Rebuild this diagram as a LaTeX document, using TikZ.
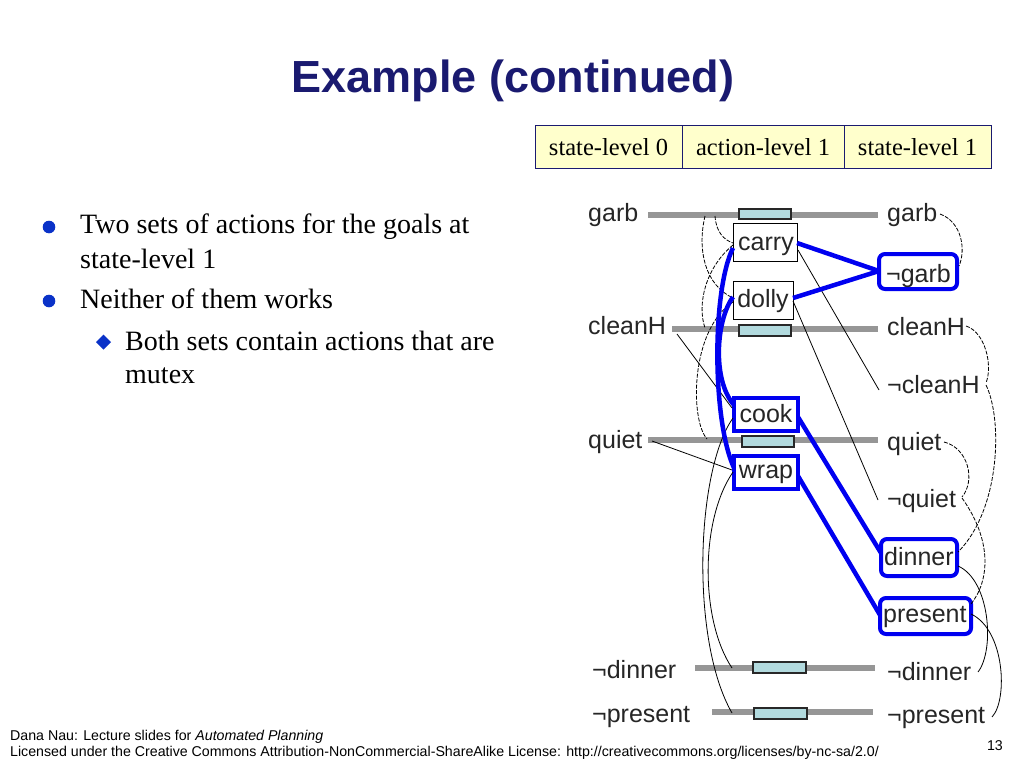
\documentclass[tikz,border=0pt]{standalone}
\usepackage{fontspec}
\setmainfont{Liberation Serif}
\newfontfamily\arial{Liberation Sans}
\definecolor{navy}{RGB}{26,26,112}
\definecolor{bulletblue}{RGB}{10,50,200}
\definecolor{mtxblue}{RGB}{0,0,240}
\definecolor{noopfill}{RGB}{178,218,222}
\definecolor{hdrfill}{RGB}{255,255,204}
\definecolor{lbl}{RGB}{38,38,38}
\begin{document}
\begin{tikzpicture}[x=1pt,y=-1pt,
  lab/.style={font=\arial\fontsize{25}{25}\selectfont, text=lbl, inner sep=0pt},
  grayline/.style={line width=6pt, draw={rgb,255:red,150;green,150;blue,150}},
  noop/.style={draw={rgb,255:red,40;green,40;blue,40}, line width=1.1pt, fill=noopfill},
  actbox/.style={draw=black, line width=0.9pt, fill=white},
  actblue/.style={draw=mtxblue, line width=4pt, fill=white},
  goalbox/.style={draw=mtxblue, line width=4pt, rounded corners=6pt, fill=white},
  bluelink/.style={draw=mtxblue, line width=4.5pt},
  thin/.style={draw=black, line width=0.8pt},
  dashlink/.style={draw=black, line width=0.8pt, dash pattern=on 4pt off 1.5pt},
  hdr/.style={draw=navy, line width=1pt, fill=hdrfill},
  hdrtext/.style={font=\fontsize{24.5}{24.5}\selectfont, anchor=base},
  body/.style={font=\fontsize{28}{28}\selectfont, anchor=base west, inner sep=0pt},
  foot/.style={font=\arial\fontsize{14.2}{14.2}\selectfont, inner sep=0pt}
]
\useasboundingbox (0,0) rectangle (1024,768);
\fill[white] (0,0) rectangle (1024,768);

% title
\node[font=\arial\bfseries\fontsize{45}{45}\selectfont, text=navy, anchor=base] (title) at (513,92) {Example (continued)};

% header table
\draw[hdr] (535,125) rectangle (991,168);
\draw[navy, line width=1pt] (682,125) -- (682,168) (844,125) -- (844,168);
\node[hdrtext] (h1) at (608.5,155) {state-level 0};
\node[hdrtext] (h2) at (763,155) {action-level 1};
\node[hdrtext] (h3) at (917.5,155) {state-level 1};

% bullets
\fill[bulletblue] (49,227) circle (6.3pt);
\fill[bulletblue] (49,301) circle (6.3pt);
\fill[bulletblue] (103.5,334.5) -- (111,342) -- (103.5,349.5) -- (96,342) -- cycle;
\node[body] (b1) at (80,233) {Two sets of actions for the goals at};
\node[body] (b1b) at (80,268) {state-level 1};
\node[body] (b2) at (80,308) {Neither of them works};
\node[body] (b3) at (125,350) {Both sets contain actions that are};
\node[body] (b3b) at (125,383) {mutex};

% footer
\node[foot, anchor=base west] (f1) at (10,740) {Dana Nau: Lecture slides for \textit{Automated Planning}};
\node[foot, anchor=base west] (f2) at (10,756) {Licensed under the Creative Commons Attribution-NonCommercial-ShareAlike License: http://creativecommons.org/licenses/by-nc-sa/2.0/};
\node[foot, anchor=base east] (pg) at (1003,750) {13};

% gray persistence lines
\coordinate (gL) at (648,215); \coordinate (gR) at (878,215);
\coordinate (cL) at (672,329); \coordinate (cR) at (878,329);
\coordinate (qL) at (648,440); \coordinate (qR) at (878,440);
\coordinate (dL) at (695,668); \coordinate (dR) at (875,668);
\coordinate (pL) at (712,712); \coordinate (pR) at (873,712);
\draw[grayline] (gL) -- (gR);
\draw[grayline] (cL) -- (cR);
\draw[grayline] (qL) -- (qR);
\draw[grayline] (dL) -- (dR);
\draw[grayline] (pL) -- (pR);

% noop boxes
\draw[noop] (739,209) rectangle (791,219);
\draw[noop] (739,325) rectangle (791,336);
\draw[noop] (742,436) rectangle (794,447);
\draw[noop] (753,662) rectangle (806,673);
\draw[noop] (754,708) rectangle (807,719);

% left labels
\node[lab, anchor=base west] (lgarb) at (588,221) {garb};
\node[lab, anchor=base west] (lclean) at (588,334) {cleanH};
\node[lab, anchor=base west] (lquiet) at (588,448) {quiet};
\node[lab, anchor=base west] (ldin) at (592,678) {¬dinner};
\node[lab, anchor=base west] (lpre) at (592,722) {¬present};

% right labels
\node[lab, anchor=base west] (rgarb) at (887,221) {garb};
\node[lab, anchor=base west] (rclean) at (887,335) {cleanH};
\node[lab, anchor=base west] (rnclean) at (887,393) {¬cleanH};
\node[lab, anchor=base west] (rquiet) at (887,450) {quiet};
\node[lab, anchor=base west] (rnquiet) at (887,507) {¬quiet};
\node[lab, anchor=base west] (rndin) at (887,680) {¬dinner};
\node[lab, anchor=base west] (rnpre) at (887,723) {¬present};

% goal boxes
\draw[goalbox] (879,254) rectangle (957,289);
\node[lab, anchor=base west] (ngarb) at (886,282) {¬garb};
\draw[goalbox] (881,539) rectangle (957,576);
\node[lab, anchor=base west] (dinner) at (884,565) {dinner};
\draw[goalbox] (880,598) rectangle (971,634);
\node[lab, anchor=base west] (present) at (883,622) {present};

% action boxes
\draw[actbox] (733,223) rectangle (797,261);
\node[lab, anchor=base] (carry) at (766,250) {carry};
\draw[actbox] (733,281) rectangle (793,319);
\node[lab, anchor=base] (dolly) at (763,307) {dolly};
\draw[actblue] (734,398) rectangle (798,431);
\node[lab, anchor=base] (cook) at (766,422) {cook};
\draw[actblue] (734,456) rectangle (798,489);
\node[lab, anchor=base] (wrap) at (766,478) {wrap};

% precondition / effect thin lines
\draw[thin] (677,334) -- (732,408);
\draw[thin] (652,441) -- (732,470);
\draw[thin] (798,250) -- (879,390);
\draw[thin] (793,301) -- (878,500);

% mutex dashed (left)
\draw[dashlink] (715,216) .. controls (716,232) and (724,240) .. (733,243);
\draw[dashlink] (705,216) .. controls (697,250) and (705,285) .. (733,298);
\draw[dashlink] (733,245) .. controls (705,268) and (697,305) .. (705,328);
\draw[dashlink] (733,302) .. controls (690,330) and (690,420) .. (707,439);

% solid mutex (left, down)
\draw[thin] (733,418) .. controls (696,470) and (690,640) .. (732,713);
\draw[thin] (733,472) .. controls (700,520) and (700,620) .. (732,668);

% blue mutex curves
\draw[bluelink] (733,248) .. controls (712,290) and (712,420) .. (734,468);
\draw[bluelink] (733,297) .. controls (716,320) and (712,380) .. (734,405);

% blue support lines
\draw[bluelink] (797,243) -- (879,271);
\draw[bluelink] (793,298) -- (879,271);
\draw[bluelink] (798,417) -- (881,553);
\draw[bluelink] (798,476) -- (880,615);

% right mutex
\draw[dashlink] (940,214) .. controls (962,222) and (966,250) .. (959,266);
\draw[dashlink] (966,326) .. controls (985,332) and (993,365) .. (986,383);
\draw[dashlink] (986,385) .. controls (1003,420) and (1000,510) .. (958,552);
\draw[dashlink] (944,442) .. controls (968,448) and (976,480) .. (962,497);
\draw[dashlink] (962,498) .. controls (992,540) and (990,580) .. (971,604);
\draw[thin] (958,566) .. controls (990,580) and (995,650) .. (978,672);
\draw[thin] (971,614) .. controls (1005,630) and (1008,700) .. (992,717);
\end{tikzpicture}
\end{document}
